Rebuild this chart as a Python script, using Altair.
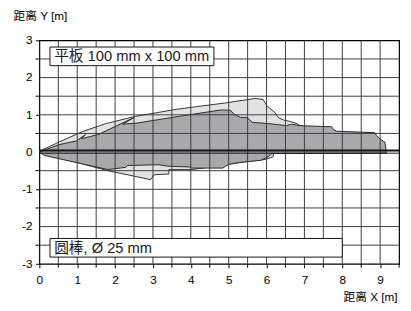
import altair as alt
import pandas as pd

# Light grey detection area (outline points, data units in m)
light_x = [0.00, 0.52, 1.14, 1.74, 2.54, 3.63, 4.92, 5.70, 5.91, 6.01, 6.22, 6.32, 6.45, 6.63, 6.81, 6.92,
           6.74, 6.19, 6.17, 5.96, 5.44, 4.04, 3.42, 3.42, 3.03, 2.94, 1.81, 0.08, 0.00]
light_y = [0.02, 0.27, 0.55, 0.76, 0.96, 1.15, 1.32, 1.44, 1.41, 1.24, 1.06, 0.92, 0.86, 0.82, 0.76, 0.68,
           0.18, -0.03, -0.13, -0.20, -0.26, -0.47, -0.47, -0.59, -0.61, -0.74, -0.50, -0.03, 0.02]

# Dark grey detection area
dark_x = [0.00, 0.52, 0.98, 1.22, 1.11, 1.55, 2.51, 2.20, 2.59, 3.63, 4.79, 5.05, 5.13, 5.31, 5.49, 5.62,
          6.09, 6.53, 6.66, 6.87, 7.72, 7.77, 7.85, 8.86, 8.90, 9.02, 9.12, 9.16, 9.16, 6.14, 6.04, 5.85,
          5.28, 5.00, 4.84, 4.02, 3.96, 3.39, 3.16, 2.33, 2.28, 1.81, 0.13, 0.00]
dark_y = [0.00, 0.20, 0.30, 0.47, 0.36, 0.47, 0.93, 0.75, 0.78, 0.95, 1.13, 1.12, 1.03, 0.93, 0.93, 0.80,
          0.76, 0.71, 0.75, 0.71, 0.68, 0.60, 0.56, 0.52, 0.45, 0.33, 0.27, 0.05, -0.03, -0.04, -0.13, -0.22,
          -0.28, -0.33, -0.43, -0.43, -0.40, -0.38, -0.34, -0.36, -0.41, -0.47, -0.09, 0.00]

x_labels = [0, 1, 2, 3, 4, 5, 6, 7, 8, 9]
y_labels = [-3, -2, -1, 0, 1, 2, 3]
x_half = [0.5, 1.5, 2.5, 3.5, 4.5, 5.5, 6.5, 7.5, 8.5, 9.5]
y_half = [-2.5, -1.5, -0.5, 0.5, 1.5, 2.5]

labels = ["平板 100 mm x 100 mm", "圆棒, Ø 25 mm"]
box_x0 = [0.28, 0.28]
box_x1 = [4.61, 8.0]
box_y0 = [2.32, -2.82]
box_y1 = [2.82, -2.32]
text_x = [0.39, 0.39]
text_y = [2.57, -2.57]

FONT = "Liberation Sans, Arial, Noto Sans CJK SC"
W, H = 367, 228

light = pd.DataFrame({"x": light_x, "y": light_y, "i": range(len(light_x))})
dark = pd.DataFrame({"x": dark_x, "y": dark_y, "i": range(len(dark_x))})
gx = pd.DataFrame({"x": [v for v in sorted(x_labels + x_half) if 0 < v < 9.5]})
gy = pd.DataFrame({"y": [v for v in sorted(y_labels + y_half) if v not in (0, -3, 3)]})
hx = pd.DataFrame({"x": x_half})
hy = pd.DataFrame({"y": y_half})
ylab = pd.DataFrame({"y": y_labels, "t": [str(v) for v in y_labels]})
boxes = pd.DataFrame({"label": labels, "x0": box_x0, "x1": box_x1, "y0": box_y0, "y1": box_y1,
                      "tx": text_x, "ty": text_y})

xscale = alt.Scale(domain=[0, 9.5], nice=False, zero=False)
yscale = alt.Scale(domain=[-3, 3], nice=False, zero=False)

xaxis = alt.Axis(values=x_labels, format="d", labelOverlap=False,
                 grid=False, domain=False, tickSize=4, tickColor="#000", labelFontSize=12,
                 labelColor="#000", labelPadding=7, labelFont=FONT,
                 title="距离 X [m]", titleFont=FONT, titleFontSize=12, titleFontWeight="normal",
                 titleColor="#000", titleX=365, titleY=33, titleAlign="right", titleBaseline="middle",
                 titleAngle=0)
yaxis = alt.Axis(values=y_labels, labels=False,
                 grid=False, domain=False, tickSize=4, tickColor="#000",
                 title="距离 Y [m]", titleFont=FONT, titleFontSize=12, titleFontWeight="normal",
                 titleColor="#000", titleX=-27, titleY=-25, titleAlign="left", titleBaseline="middle",
                 titleAngle=0)

light_layer = alt.Chart(light).mark_line(fill="#e2e2e2", stroke="#333", strokeWidth=1).encode(
    x=alt.X("x:Q", scale=xscale, axis=xaxis),
    y=alt.Y("y:Q", scale=yscale, axis=yaxis),
    order="i:Q",
)
dark_layer = alt.Chart(dark).mark_line(fill="#a8a8ad", stroke="#2a2a2a", strokeWidth=1).encode(
    x="x:Q", y="y:Q", order="i:Q"
)
vgrid = alt.Chart(gx).mark_rule(color="#3c3c3c", strokeWidth=1).encode(x="x:Q")
hgrid = alt.Chart(gy).mark_rule(color="#3c3c3c", strokeWidth=1).encode(y="y:Q")

xtick_half = alt.Chart(hx).mark_rule(color="#000", strokeWidth=1, clip=False).encode(
    x="x:Q", y=alt.value(H), y2=alt.value(H + 4)
)
ytick_half = alt.Chart(hy).mark_rule(color="#000", strokeWidth=1, clip=False).encode(
    y="y:Q", x=alt.value(-4), x2=alt.value(0)
)
ylabel_layer = alt.Chart(ylab).mark_text(align="right", baseline="middle", fontSize=12, font=FONT,
                                          color="#000").encode(
    y="y:Q", x=alt.value(-7), text="t:N"
)

zero_df = pd.DataFrame({"y": [0.04, -0.03], "w": [2.0, 1.0]})
zero = alt.Chart(zero_df).mark_rule(color="#111").encode(
    y="y:Q", strokeWidth=alt.StrokeWidth("w:Q", scale=None, legend=None)
)

box_layer = alt.Chart(boxes).mark_rect(fill="white", stroke="#111", strokeWidth=1).encode(
    x="x0:Q", x2="x1:Q", y="y0:Q", y2="y1:Q"
)
text_layer = alt.Chart(boxes).mark_text(align="left", baseline="middle", fontSize=15, font=FONT,
                                         color="#1a1a1a").encode(
    x="tx:Q", y="ty:Q", text="label:N"
)

chart = alt.layer(light_layer, dark_layer, vgrid, hgrid, xtick_half, ytick_half, zero,
                  box_layer, text_layer, ylabel_layer).properties(
    width=W, height=H,
    autosize=alt.AutoSizeParams(type="none"),
    padding={"left": 32, "top": 30, "right": 4, "bottom": 37},
    background="white",
).configure_view(stroke="#000", strokeWidth=1.2).configure_axis(
    labelOverlap=False, labelBound=False, labelFlush=False
)

chart.save("out.html", embed_options={"renderer": "svg", "actions": False})
